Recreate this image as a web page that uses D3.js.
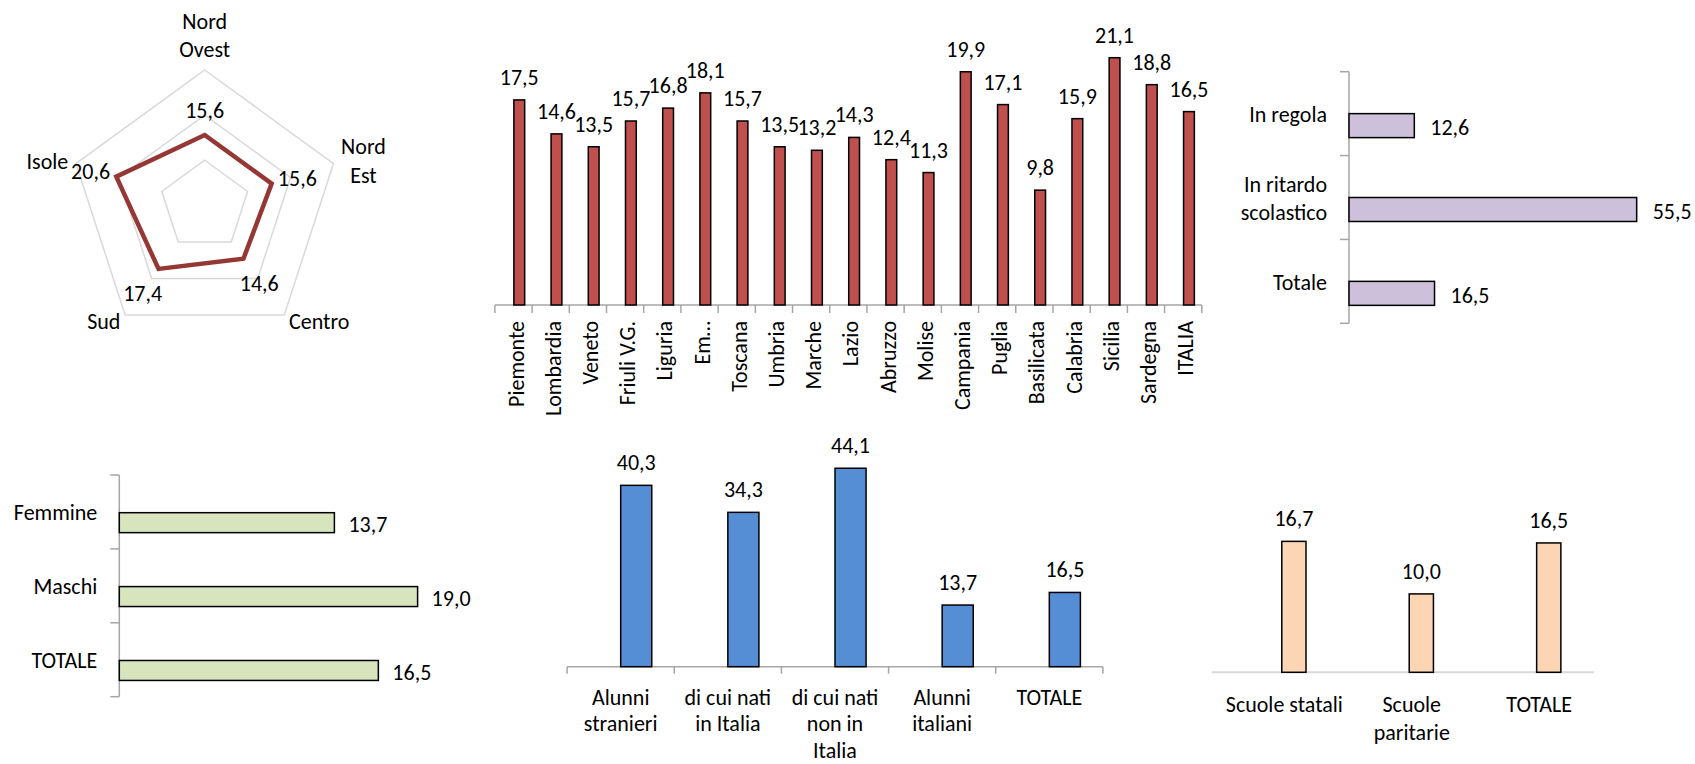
<!DOCTYPE html>
<html><head><meta charset="utf-8">
<script src="https://cdn.jsdelivr.net/npm/d3@7"></script>
<style>
body{margin:0;background:#fff;}
svg{display:block;background:#fff;}
text{font-family:Carlito, Lato, 'Open Sans', sans-serif; fill:#000;}
</style>
</head><body>
<svg id="c" width="1695" height="764"></svg>
<script>
// ---------- DATA ----------
const radarCategories = ["Nord\nOvest", "Nord\nEst", "Centro", "Sud", "Isole"];
const radarValues = [15.6, 15.6, 14.6, 17.4, 20.6];
const radarTicks = [10, 20, 30];

const regions = ["Piemonte","Lombardia","Veneto","Friuli V.G.","Liguria","Em…","Toscana","Umbria","Marche","Lazio","Abruzzo","Molise","Campania","Puglia","Basilicata","Calabria","Sicilia","Sardegna","ITALIA"];
const regionValues = [17.5,14.6,13.5,15.7,16.8,18.1,15.7,13.5,13.2,14.3,12.4,11.3,19.9,17.1,9.8,15.9,21.1,18.8,16.5];

const statusCategories = ["In regola", "In ritardo\nscolastico", "Totale"];
const statusValues = [12.6, 55.5, 16.5];

const sexCategories = ["Femmine", "Maschi", "TOTALE"];
const sexValues = [13.7, 19.0, 16.5];

const citizenshipCategories = ["Alunni\nstranieri", "di cui nati\nin Italia", "di cui nati\nnon in\nItalia", "Alunni\nitaliani", "TOTALE"];
const citizenshipValues = [40.3, 34.3, 44.1, 13.7, 16.5];

const schoolCategories = ["Scuole statali", "Scuole\nparitarie", "TOTALE"];
const schoolValues = [16.7, 10.0, 16.5];

// ---------- HELPERS ----------
const svg = d3.select("#c");
const fmt = v => d3.format(".1f")(v).replace(".", ",");
const AXIS = "#A6A6A6";
const FS = 22;

function lines(g, text, x, yCenter, lh, anchor, size) {
  const ls = text.split("\n");
  const t = g.append("text").attr("text-anchor", anchor).attr("font-size", size);
  ls.forEach((l, i) => {
    t.append("tspan").attr("x", x).attr("y", yCenter + (i - (ls.length - 1) / 2) * lh)
      .attr("dominant-baseline", "central").text(l);
  });
  return t;
}
function linesTop(g, text, x, yFirst, lh, anchor, size) {
  const ls = text.split("\n");
  const t = g.append("text").attr("text-anchor", anchor).attr("font-size", size);
  ls.forEach((l, i) => {
    t.append("tspan").attr("x", x).attr("y", yFirst + i * lh)
      .attr("dominant-baseline", "central").text(l);
  });
  return t;
}

// ---------- 1. RADAR ----------
(function () {
  const cx = 204.7, cy = 205.4, R = 135.4, n = radarCategories.length;
  const g = svg.append("g");
  const r = d3.scaleLinear().domain([0, 30]).range([0, R]);
  const ang = i => i * 2 * Math.PI / n;
  const radial = d3.lineRadial().angle((d, i) => ang(i)).radius(d => r(d)).curve(d3.curveLinearClosed);
  const gc = g.append("g").attr("transform", `translate(${cx},${cy})`);
  radarTicks.forEach(t => {
    gc.append("path").attr("d", radial(radarCategories.map(() => t)))
      .attr("fill", "none").attr("stroke", "#D9D9D9").attr("stroke-width", 1.5);
  });
  gc.append("path").attr("d", radial(radarValues))
    .attr("fill", "none").attr("stroke", "#953735").attr("stroke-width", 4.5).attr("stroke-linejoin", "miter");
  radarValues.forEach((v, i) => {
    const a = ang(i), rr = r(v) + 27;
    g.append("text").attr("x", cx + rr * Math.sin(a)).attr("y", cy - rr * Math.cos(a) + 3)
      .attr("text-anchor", "middle").attr("dominant-baseline", "central")
      .attr("font-size", FS).text(fmt(v));
  });
  radarCategories.forEach((c, i) => {
    const a = ang(i), rr = R + 8;
    const px = cx + rr * Math.sin(a), py = cy - rr * Math.cos(a);
    const nl = c.split("\n").length, lh = 28.3;
    const s = Math.sin(a);
    if (Math.abs(s) < 0.1) {
      lines(g, c, px, py - (nl * lh) / 2 + 2, lh, "middle", FS);
    } else {
      const t = lines(g, c, px, py, lh, "middle", FS);
      const w = t.node().getBBox().width;
      t.selectAll("tspan").attr("x", s > 0 ? px + w / 2 : px - w / 2);
    }
  });
})();

// ---------- 2. REGIONS ----------
(function () {
  const g = svg.append("g");
  const x = d3.scaleBand().domain(regions).range([494.9, 1201.8]);
  const y = d3.scaleLinear().domain([0, 25]).range([305, 12]);
  const bw = x.bandwidth();
  g.append("line").attr("x1", x.range()[0]).attr("x2", x.range()[1]).attr("y1", 305).attr("y2", 305)
    .attr("stroke", AXIS).attr("stroke-width", 1.5);
  const bounds = regions.map(d => x(d)).concat([x.range()[1]]);
  bounds.forEach(b => g.append("line").attr("x1", b).attr("x2", b).attr("y1", 305).attr("y2", 313)
    .attr("stroke", AXIS).attr("stroke-width", 1.5));
  regions.forEach((d, i) => {
    const v = regionValues[i];
    const bx = x(d) + bw * 0.51, bwid = bw * 0.29;
    g.append("rect").attr("x", bx).attr("y", y(v)).attr("width", bwid).attr("height", y(0) - y(v))
      .attr("fill", "#C0504D").attr("stroke", "#000").attr("stroke-width", 1.5);
    g.append("text").attr("x", bx + bwid / 2).attr("y", y(v) - 15)
      .attr("text-anchor", "middle").attr("font-size", FS).text(fmt(v));
    g.append("text").attr("transform", `translate(${x(d) + bw / 2 + 2.5},321) rotate(-90)`)
      .attr("text-anchor", "end").attr("dominant-baseline", "central").attr("font-size", FS).text(d);
  });
})();

// ---------- horizontal bar helper ----------
function hbars(cats, vals, cfg) {
  const g = svg.append("g");
  const yb = d3.scaleBand().domain(cats).range([cfg.top, cfg.bottom]);
  const x = d3.scaleLinear().domain([0, cfg.max]).range([cfg.left, cfg.right]);
  const bh = yb.bandwidth();
  g.append("line").attr("x1", cfg.left).attr("x2", cfg.left).attr("y1", cfg.top).attr("y2", cfg.bottom)
    .attr("stroke", AXIS).attr("stroke-width", 1.5);
  const bounds = cats.map(d => yb(d)).concat([cfg.bottom]);
  bounds.forEach(b => g.append("line").attr("x1", cfg.left - 9).attr("x2", cfg.left).attr("y1", b).attr("y2", b)
    .attr("stroke", AXIS).attr("stroke-width", 1.5));
  cats.forEach((c, i) => {
    const v = vals[i];
    const by = yb(c) + bh * cfg.f0, bhh = bh * (cfg.f1 - cfg.f0);
    g.append("rect").attr("x", x(0)).attr("y", by).attr("width", x(v) - x(0)).attr("height", bhh)
      .attr("fill", cfg.fill).attr("stroke", "#000").attr("stroke-width", 1.5);
    g.append("text").attr("x", x(v) + cfg.valGap).attr("y", by + bhh / 2 + 2)
      .attr("dominant-baseline", "central").attr("font-size", FS).text(fmt(v));
    lines(g, c, cfg.left - 22, yb(c) + bh / 2 + 1, 27.7, "end", FS);
  });
}

// ---------- 3. STATUS ----------
hbars(statusCategories, statusValues, {top: 71.7, bottom: 323.3, left: 1349, right: 1660, max: 60,
  f0: 0.5, f1: 0.786, fill: "#CCC0DA", valGap: 16});

// ---------- 4. SEX ----------
hbars(sexCategories, sexValues, {top: 475, bottom: 696.7, left: 119.3, right: 433.3, max: 20,
  f0: 0.51, f1: 0.78, fill: "#D7E4BD", valGap: 14});

// ---------- vertical bar helper ----------
function vbars(cats, vals, cfg) {
  const g = svg.append("g");
  const x = d3.scaleBand().domain(cats).range([cfg.left, cfg.right]);
  const y = d3.scaleLinear().domain([0, cfg.max]).range([cfg.base, cfg.top]);
  const bw = x.bandwidth();
  g.append("line").attr("x1", cfg.left).attr("x2", cfg.right).attr("y1", cfg.base).attr("y2", cfg.base)
    .attr("stroke", cfg.axis).attr("stroke-width", cfg.axisW);
  if (cfg.ticks) {
    const bounds = cats.map(d => x(d)).concat([cfg.right]);
    bounds.forEach(b => g.append("line").attr("x1", b).attr("x2", b).attr("y1", cfg.base).attr("y2", cfg.base + 7)
      .attr("stroke", cfg.axis).attr("stroke-width", 1.5));
  }
  cats.forEach((c, i) => {
    const v = vals[i];
    const bx = x(c) + bw * cfg.f0, bwid = bw * (cfg.f1 - cfg.f0);
    g.append("rect").attr("x", bx).attr("y", y(v)).attr("width", bwid).attr("height", y(0) - y(v))
      .attr("fill", cfg.fill).attr("stroke", "#000").attr("stroke-width", 1.5);
    g.append("text").attr("x", bx + bwid / 2).attr("y", y(v) - 15)
      .attr("text-anchor", "middle").attr("font-size", FS).text(fmt(v));
    linesTop(g, c, x(c) + bw * cfg.labelF, cfg.labelY, cfg.lh, "middle", FS);
  });
}

// ---------- 5. CITIZENSHIP ----------
vbars(citizenshipCategories, citizenshipValues, {left: 567.1, right: 1102.9, base: 666.7, top: 441.7, max: 50,
  f0: 0.5, f1: 0.79, fill: "#558ED5", axis: AXIS, axisW: 1.5, ticks: true,
  labelF: 0.5, labelY: 697, lh: 26.5});

// ---------- 6. SCHOOL ----------
vbars(schoolCategories, schoolValues, {left: 1211.7, right: 1594, base: 672.3, top: 515.5, max: 20,
  f0: 0.55, f1: 0.74, fill: "#FCD5B5", axis: "#D9D9D9", axisW: 2, ticks: false,
  labelF: 0.57, labelY: 704, lh: 28.3});
</script>
</body></html>
